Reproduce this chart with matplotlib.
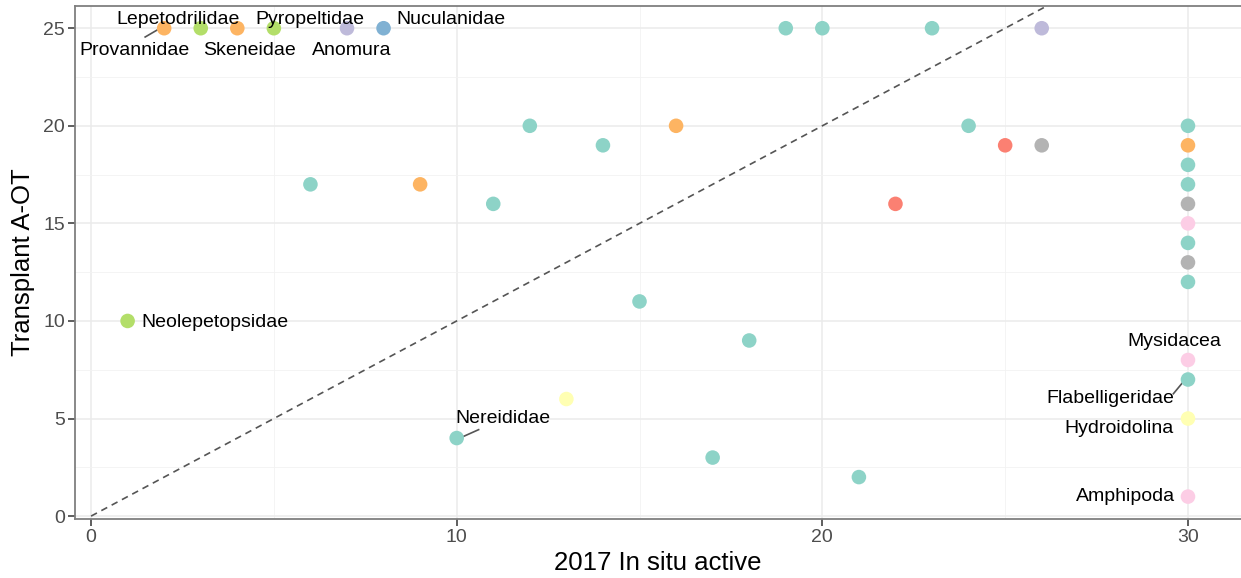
import matplotlib
matplotlib.use("Agg")
import matplotlib.pyplot as plt
from matplotlib.ticker import MultipleLocator

plt.rcParams["font.family"] = ["Liberation Sans", "DejaVu Sans"]

# Set3-like palette keyed by group
palette = {
    "teal": "#8dd3c7",
    "orange": "#fdb462",
    "green": "#b3de69",
    "lavender": "#bebada",
    "blue": "#80b1d3",
    "red": "#fb8072",
    "grey": "#b3b3b3",
    "pink": "#fccde5",
    "yellow": "#ffffb3",
}

in_situ = [2, 3, 4, 5, 7, 8, 19, 20, 23, 26,
           12, 16, 24, 14, 25, 26, 6, 9, 11, 22,
           15, 1, 18, 13, 10, 17, 21,
           30, 30, 30, 30, 30, 30, 30, 30, 30, 30, 30, 30, 30]
transplant = [25, 25, 25, 25, 25, 25, 25, 25, 25, 25,
              20, 20, 20, 19, 19, 19, 17, 17, 16, 16,
              11, 10, 9, 6, 4, 3, 2,
              20, 19, 18, 17, 16, 15, 14, 13, 12, 8, 7, 5, 1]
groups = ["orange", "green", "orange", "green", "lavender", "blue", "teal", "teal", "teal", "lavender",
          "teal", "orange", "teal", "teal", "red", "grey", "teal", "orange", "teal", "red",
          "teal", "green", "teal", "yellow", "teal", "teal", "teal",
          "teal", "orange", "teal", "teal", "grey", "pink", "teal", "grey", "teal", "pink", "teal", "yellow", "pink"]

# labelled taxa: name, point x, point y, text x, text y, ha
labels = [
    ("Lepetodrilidae", 3, 25, 2.38, 25.46, "center"),
    ("Provannidae", 2, 25, 1.20, 23.87, "center"),
    ("Skeneidae", 4, 25, 4.34, 23.87, "center"),
    ("Pyropeltidae", 5, 25, 5.98, 25.46, "center"),
    ("Anomura", 7, 25, 7.13, 23.87, "center"),
    ("Nuculanidae", 8, 25, 9.84, 25.46, "center"),
    ("Neolepetopsidae", 1, 10, 1.37, 9.94, "left"),
    ("Nereididae", 10, 4, 11.26, 5.02, "center"),
    ("Mysidacea", 30, 8, 29.62, 8.97, "center"),
    ("Flabelligeridae", 30, 7, 27.87, 6.05, "center"),
    ("Hydroidolina", 30, 5, 28.11, 4.51, "center"),
    ("Amphipoda", 30, 1, 28.28, 1.02, "center"),
]
# leader segments (from, to) in data units
segments = [
    ((1.48, 24.55), (1.80, 24.90)),
    ((10.17, 4.07), (10.60, 4.43)),
    ((29.60, 6.27), (29.87, 6.88)),
]

fig = plt.figure(figsize=(12.41, 5.78), dpi=100)
ax = fig.add_axes([0.0604, 0.102, 0.9396, 0.888])

ax.plot([0, 40], [0, 40], linestyle=(0, (4, 3)), color="#555555", linewidth=1.2, zorder=2)
ax.scatter(in_situ, transplant, s=110, c=[palette[g] for g in groups],
           linewidths=0, zorder=3)

for name, px, py, tx, ty, ha in labels:
    ax.text(tx, ty, name, ha=ha, va="center", fontsize=14, color="black", zorder=4)
for (x0, y0), (x1, y1) in segments:
    ax.plot([x0, x1], [y0, y1], color="#555555", linewidth=1.2, zorder=2)

ax.set_xlim(-0.44, 31.45)
ax.set_ylim(-0.15, 26.15)
ax.xaxis.set_major_locator(MultipleLocator(10))
ax.xaxis.set_minor_locator(MultipleLocator(5))
ax.yaxis.set_major_locator(MultipleLocator(5))
ax.yaxis.set_minor_locator(MultipleLocator(2.5))
ax.grid(which="major", color="#ebebeb", linewidth=1.1, zorder=0)
ax.grid(which="minor", color="#f2f2f2", linewidth=0.6, zorder=0)
ax.set_axisbelow(True)
ax.tick_params(which="major", length=5, width=1.1, color="#333333",
               labelsize=14, labelcolor="#4d4d4d", pad=2)
ax.tick_params(which="minor", length=0)

for side in ["left", "bottom", "top"]:
    ax.spines[side].set_color("#7f7f7f")
    ax.spines[side].set_linewidth(1.3)
ax.spines["right"].set_visible(False)

ax.set_xlabel("2017 In situ active", fontsize=18.5, labelpad=4)
ax.set_ylabel("Transplant A-OT", fontsize=18.5, labelpad=6)

fig.savefig("out.png", dpi=100)
